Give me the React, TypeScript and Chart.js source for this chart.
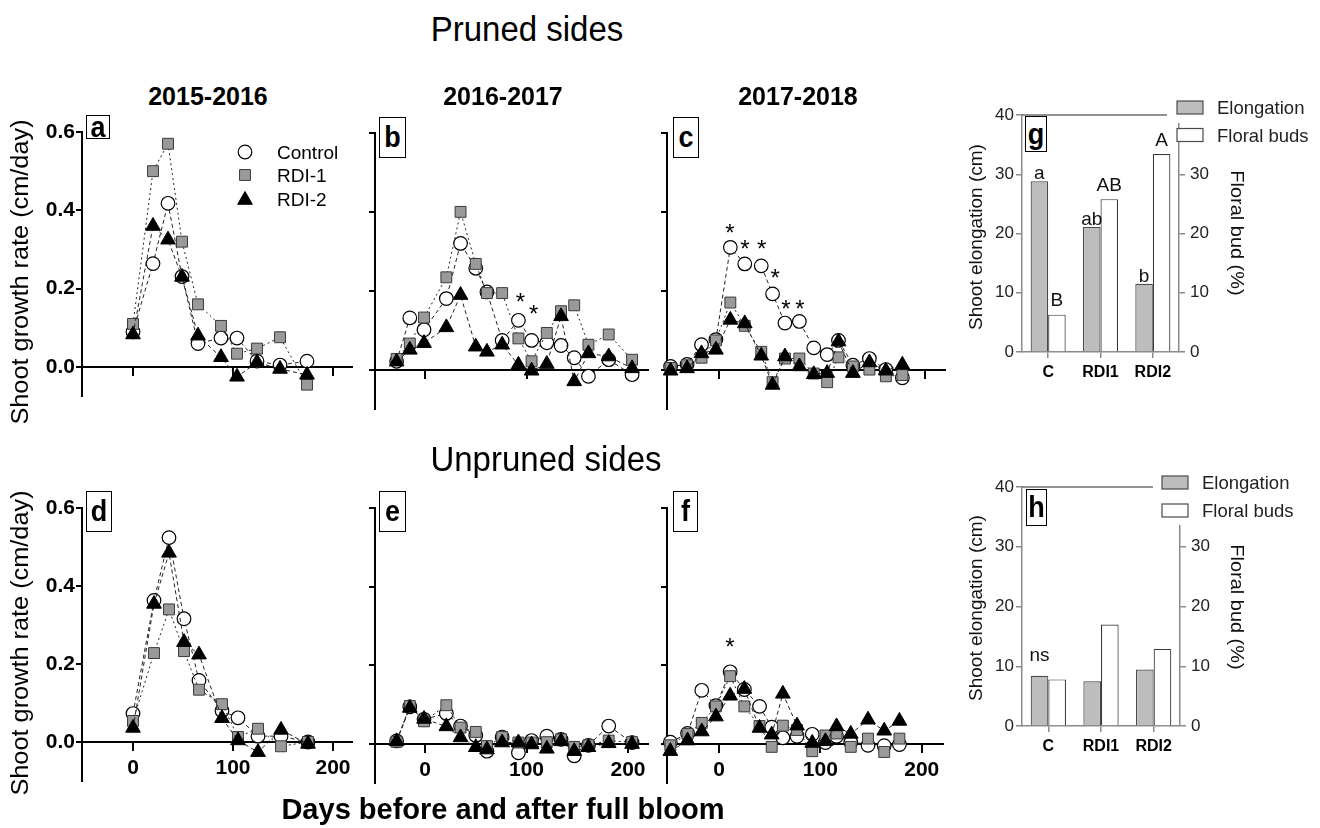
import React, { useEffect, useRef } from 'react';
import { Chart, registerables } from 'chart.js';

Chart.register(...registerables);
const FONT = "'Liberation Sans', Arial, Helvetica, sans-serif";
Chart.defaults.font.family = FONT;

// ---------------- DATA ----------------
const seriesNames = ['Control', 'RDI-1', 'RDI-2'];
const xTicks = [0, 100, 200];
const yTicks = [0, 0.2, 0.4, 0.6];

// a) Pruned 2015-2016
const aDays = [0, 20, 35, 49, 65, 88, 104, 124, 147, 174];
const aControl = [0.09, 0.264, 0.418, 0.231, 0.06, 0.074, 0.074, 0.015, 0.005, 0.015];
const aRdi1 = [0.11, 0.5, 0.57, 0.32, 0.16, 0.105, 0.034, 0.047, 0.076, -0.045];
const aRdi2 = [0.083, 0.36, 0.325, 0.23, 0.08, 0.025, -0.025, 0.012, -0.005, -0.02];

// b) Pruned 2016-2017
const bDays = [-28, -15, -1, 21, 35, 50, 61, 76, 92, 105, 120, 134, 147, 161, 181, 204];
const bControl = [0.021, 0.131, 0.101, 0.18, 0.32, 0.257, 0.197, 0.074, 0.125, 0.074, 0.068, 0.061, 0.03, -0.017, 0.025, -0.013];
const bRdi1 = [0.027, 0.066, 0.132, 0.234, 0.4, 0.268, 0.194, 0.194, 0.079, 0.021, 0.093, 0.148, 0.163, 0.063, 0.089, 0.025];
const bRdi2 = [0.02, 0.05, 0.067, 0.107, 0.189, 0.058, 0.045, 0.063, 0.012, -0.003, 0.014, 0.135, -0.03, 0.041, 0.033, 0.003];
const bStars = [{ x: 94, y: 0.186 }, { x: 107, y: 0.156 }];

// c) Pruned 2017-2018
const cDays = [-47, -31, -17, -3, 11, 25, 41, 52, 64, 78, 92, 105, 116, 130, 146, 162, 178];
const cControl = [0.008, 0.013, 0.063, 0.076, 0.31, 0.268, 0.263, 0.192, 0.118, 0.122, 0.055, 0.038, 0.074, 0.011, 0.028, 0.0, -0.021];
const cRdi1 = [0.004, 0.011, 0.03, 0.074, 0.17, 0.111, 0.045, -0.032, 0.028, 0.028, -0.01, -0.032, 0.031, 0.008, 0.0, -0.017, -0.014];
const cRdi2 = [-0.003, 0.003, 0.041, 0.05, 0.126, 0.117, 0.035, -0.039, 0.033, 0.008, -0.012, -0.009, 0.071, -0.009, 0.018, -0.003, 0.012];
const cStars = [
  { x: 10.7, y: 0.36 }, { x: 25.2, y: 0.321 }, { x: 41.5, y: 0.321 },
  { x: 54.4, y: 0.246 }, { x: 65, y: 0.169 }, { x: 78.6, y: 0.169 },
];

// d) Unpruned 2015-2016
const dDays = [0, 21, 36, 51, 66, 89, 105, 125, 148, 175];
const dControl = [0.073, 0.363, 0.524, 0.316, 0.158, 0.08, 0.062, 0.015, 0.015, 0.0];
const dRdi1 = [0.054, 0.228, 0.34, 0.233, 0.134, 0.097, 0.013, 0.034, -0.011, 0.0];
const dRdi2 = [0.036, 0.354, 0.485, 0.256, 0.224, 0.061, 0.004, -0.026, 0.031, -0.005];

// e) Unpruned 2016-2017
const eDays = [-28, -15, -1, 21, 35, 50, 61, 76, 92, 105, 120, 134, 147, 161, 181, 204];
const eControl = [0.007, 0.094, 0.062, 0.077, 0.045, 0.021, -0.019, 0.017, -0.023, 0.008, 0.019, 0.011, -0.031, -0.004, 0.045, 0.003];
const eRdi1 = [0.005, 0.096, 0.057, 0.098, 0.041, 0.03, -0.006, 0.017, 0.003, 0.003, 0.004, 0.011, -0.008, -0.004, 0.008, 0.004];
const eRdi2 = [0.006, 0.091, 0.063, 0.044, 0.016, -0.009, -0.015, 0.003, 0.003, -0.002, -0.013, 0.006, -0.019, -0.009, 0.001, -0.001];

// f) Unpruned 2017-2018
const fDays = [-48, -31, -17, -3, 11, 25, 40, 52, 63, 77, 92, 105, 116, 130, 147, 163, 178];
const fControl = [0.004, 0.026, 0.136, 0.097, 0.183, 0.138, 0.095, 0.042, 0.015, 0.019, 0.024, 0.003, 0.019, 0.003, -0.004, -0.005, -0.002];
const fRdi1 = [-0.004, 0.025, 0.053, 0.095, 0.172, 0.095, 0.045, -0.008, 0.046, 0.035, -0.019, 0.021, 0.026, -0.008, 0.013, -0.021, 0.013];
const fRdi2 = [-0.019, 0.008, 0.031, 0.069, 0.122, 0.139, 0.04, 0.023, 0.127, 0.046, 0.002, 0.006, 0.044, 0.025, 0.061, 0.033, 0.058];
const fStars = [{ x: 10.8, y: 0.26 }];

// g, h) bar charts
const barCategories = ['C', 'RDI1', 'RDI2'];
const barSeries = ['Elongation', 'Floral buds'];
const barLeftTicks = [0, 10, 20, 30, 40];
const barRightTicks = [0, 10, 20, 30];
const gElong = [28.8, 21.1, 11.5];
const gFloral = [6.3, 25.8, 33.4];
const gElongLetters = ['a', 'ab', 'b'];
const gFloralLetters = ['B', 'AB', 'A'];
const hElong = [8.4, 7.5, 9.45];
const hFloral = [7.8, 17.0, 12.9];
const hElongLetters = ['ns', '', ''];
const hFloralLetters = ['', '', ''];

// ---------------- HELPERS ----------------
type Pt = { x: number; y: number };
const zip = (xs: number[], ys: number[]): Pt[] => xs.map((x, i) => ({ x, y: ys[i] }));

const markerStyles = [
  { pointStyle: 'circle', r: 6.8, fill: '#ffffff', stroke: '#000000', bw: 1.2, order: 2, dash: [4, 3] },
  { pointStyle: 'rect', r: 7.7, fill: '#9a9a9a', stroke: '#3a3a3a', bw: 1, order: 1, dash: [2, 3] },
  { pointStyle: 'triangle', r: 8.5, fill: '#000000', stroke: '#000000', bw: 1, order: 0, dash: [4, 3] },
];

function drawMarker(ctx: CanvasRenderingContext2D, i: number, x: number, y: number) {
  const m = markerStyles[i];
  ctx.save();
  ctx.beginPath();
  if (m.pointStyle === 'circle') {
    ctx.arc(x, y, m.r, 0, Math.PI * 2);
  } else if (m.pointStyle === 'rect') {
    const s = m.r * Math.SQRT1_2;
    ctx.rect(x - s, y - s, 2 * s, 2 * s);
  } else {
    let rad = 0;
    ctx.moveTo(x + Math.sin(rad) * m.r, y - Math.cos(rad) * m.r);
    rad += (2 * Math.PI) / 3;
    ctx.lineTo(x + Math.sin(rad) * m.r, y - Math.cos(rad) * m.r);
    rad += (2 * Math.PI) / 3;
    ctx.lineTo(x + Math.sin(rad) * m.r, y - Math.cos(rad) * m.r);
    ctx.closePath();
  }
  ctx.fillStyle = m.fill;
  ctx.fill();
  ctx.lineWidth = m.bw;
  ctx.strokeStyle = m.stroke;
  ctx.stroke();
  ctx.restore();
}

interface LinePanel {
  x0: number; x1: number; y0: number; y1: number;
  xMin: number; xMax: number; yMin: number;
  days: number[]; series: number[][];
  stars?: Pt[]; showY: boolean; showX: boolean; legend?: boolean;
}

const PT = 15, PR = 15, PB = 10;
function lineGeom(p: LinePanel) {
  const W = p.showY ? 60 : 10;
  return { W, left: p.x0 - W, top: p.y0 - PT, width: W + (p.x1 - p.x0) + PR, height: PT + (p.y1 - p.y0) + PB };
}

function makeLineConfig(p: LinePanel): any {
  const g = lineGeom(p);
  const plugins: any[] = [];
  if (p.stars) {
    const stars = p.stars;
    plugins.push({
      id: 'stars',
      afterDatasetsDraw(chart: any) {
        const { ctx } = chart;
        const xs = chart.scales.x, ys = chart.scales.y;
        ctx.save();
        ctx.font = `24px ${FONT}`;
        ctx.fillStyle = '#000';
        ctx.textAlign = 'center';
        ctx.textBaseline = 'alphabetic';
        for (const s of stars) ctx.fillText('*', xs.getPixelForValue(s.x), ys.getPixelForValue(s.y) + 0.575 * 24);
        ctx.restore();
      },
    });
  }
  if (p.legend) {
    const items = [
      { y: 152, ty: 152 },
      { y: 175, ty: 175.5 },
      { y: 200, ty: 198.8 },
    ];
    plugins.push({
      id: 'seriesLegend',
      afterDraw(chart: any) {
        const { ctx } = chart;
        ctx.save();
        items.forEach((it, i) => {
          drawMarker(ctx, i, 245 - g.left, it.y - g.top);
          ctx.font = `19px ${FONT}`;
          ctx.fillStyle = '#000';
          ctx.textAlign = 'left';
          ctx.textBaseline = 'alphabetic';
          ctx.fillText(seriesNames[i], 277 - g.left, it.ty - g.top + 0.358 * 19);
        });
        ctx.restore();
      },
    });
  }
  return {
    type: 'scatter',
    data: {
      datasets: p.series.map((vals, i) => {
        const m = markerStyles[i];
        return {
          label: seriesNames[i],
          data: zip(p.days, vals),
          showLine: true,
          borderColor: '#222',
          borderWidth: 1,
          borderDash: m.dash,
          tension: 0,
          fill: false,
          pointStyle: m.pointStyle,
          pointRadius: m.r,
          pointHoverRadius: m.r,
          pointBackgroundColor: m.fill,
          pointBorderColor: m.stroke,
          pointBorderWidth: m.bw,
          order: m.order,
          clip: false,
        };
      }),
    },
    options: {
      responsive: false,
      animation: false,
      devicePixelRatio: 1,
      events: [],
      layout: { padding: { left: 0, top: PT, right: PR, bottom: PB } },
      plugins: { legend: { display: false }, tooltip: { enabled: false }, title: { display: false } },
      scales: {
        x: {
          type: 'linear',
          min: p.xMin,
          max: p.xMax,
          position: { y: 0 },
          border: { display: true, color: '#000', width: 2 },
          grid: { display: true, drawOnChartArea: false, drawTicks: true, tickLength: 8, color: '#000', lineWidth: 2 },
          ticks: { display: p.showX, color: '#000', font: { size: 21, weight: 'bold' }, padding: 6, maxRotation: 0, autoSkip: false },
          afterBuildTicks: (s: any) => { s.ticks = xTicks.map((v) => ({ value: v })); },
          afterFit: (s: any) => { s.paddingLeft = 0; s.paddingRight = 0; s.paddingTop = 0; s.paddingBottom = 0; },
        },
        y: {
          type: 'linear',
          min: p.yMin,
          max: 0.6,
          position: 'left',
          border: { display: true, color: '#000', width: 2 },
          grid: { display: true, drawOnChartArea: false, drawTicks: true, tickLength: 6, color: '#000', lineWidth: 2 },
          ticks: { display: p.showY, color: '#000', font: { size: 21, weight: 'bold' }, padding: 1, callback: (v: any) => Number(v).toFixed(1) },
          afterBuildTicks: (s: any) => { s.ticks = yTicks.map((v) => ({ value: v })); },
          afterFit: (s: any) => { s.width = g.W; s.paddingTop = 0; s.paddingBottom = 0; s.paddingLeft = 0; s.paddingRight = 0; },
        },
      },
    },
    plugins,
  };
}

interface BarPanel {
  x0: number; x1: number; y0: number; y1: number;
  elong: number[]; floral: number[]; elongLetters: string[]; floralLetters: string[];
  elongOffset: number; floralOffset: number;
  lineEnd: number; maskX: number; maskBottom: number;
  legendX: number; legendTextX: number; legendY: number[];
}
const BWL = 50, BWR = 45, BXH = 40, BPT = 25;
function barGeom(p: BarPanel) {
  const left = p.x0 - BWL;
  const width = 1320 - left;
  return { left, top: p.y0 - BPT, width, height: BPT + (p.y1 - p.y0) + BXH, PR: width - BWL - (p.x1 - p.x0) - BWR };
}

function makeBarConfig(p: BarPanel): any {
  const g = barGeom(p);
  const axisColor = '#8a8a8a';
  const common = {
    border: { display: true, color: axisColor, width: 1.5 },
    grid: { display: true, drawOnChartArea: false, drawTicks: true, tickLength: 6, color: axisColor, lineWidth: 1.5 },
  };
  return {
    type: 'bar',
    data: {
      labels: barCategories,
      datasets: [
        { label: barSeries[0], data: p.elong, yAxisID: 'y', backgroundColor: '#bdbdbd', borderColor: '#4a4a4a', borderWidth: 1.2, barPercentage: 1, categoryPercentage: 0.67 },
        { label: barSeries[1], data: p.floral, yAxisID: 'y2', backgroundColor: '#ffffff', borderColor: '#3a3a3a', borderWidth: 1.2, barPercentage: 1, categoryPercentage: 0.67 },
      ],
    },
    options: {
      responsive: false,
      animation: false,
      devicePixelRatio: 1,
      events: [],
      layout: { padding: { left: 0, top: BPT, right: g.PR, bottom: 0 } },
      plugins: { legend: { display: false }, tooltip: { enabled: false } },
      scales: {
        x: {
          ...common,
          grid: { ...common.grid, offset: false },
          ticks: { color: '#000', font: { size: 16, weight: 'bold' }, padding: 5, maxRotation: 0, autoSkip: false },
          afterFit: (s: any) => { s.height = BXH; s.paddingLeft = 0; s.paddingRight = 0; },
        },
        y: {
          ...common,
          min: 0, max: 40, position: 'left',
          ticks: { color: '#222', font: { size: 17 }, padding: 2 },
          afterBuildTicks: (s: any) => { s.ticks = barLeftTicks.map((v) => ({ value: v })); },
          afterFit: (s: any) => { s.width = BWL; s.paddingTop = 0; s.paddingBottom = 0; },
        },
        y2: {
          ...common,
          min: 0, max: 40, position: 'right',
          ticks: { color: '#222', font: { size: 17 }, padding: 5 },
          afterBuildTicks: (s: any) => { s.ticks = barRightTicks.map((v) => ({ value: v })); },
          afterFit: (s: any) => { s.width = BWR; s.paddingTop = 0; s.paddingBottom = 0; },
        },
      },
    },
    plugins: [
      {
        id: 'barLetters',
        afterDatasetsDraw(chart: any) {
          const { ctx } = chart;
          ctx.save();
          ctx.font = `19px ${FONT}`;
          ctx.fillStyle = '#111';
          ctx.textAlign = 'center';
          ctx.textBaseline = 'alphabetic';
          [p.elongLetters, p.floralLetters].forEach((letters, di) => {
            const meta = chart.getDatasetMeta(di);
            const off = di === 0 ? p.elongOffset : p.floralOffset;
            meta.data.forEach((bar: any, j: number) => {
              if (letters[j]) ctx.fillText(letters[j], bar.x, bar.y - off);
            });
          });
          ctx.restore();
        },
      },
      {
        id: 'barDecor',
        afterDraw(chart: any) {
          const { ctx, chartArea } = chart;
          ctx.save();
          ctx.strokeStyle = '#6e6e6e';
          ctx.lineWidth = 1.5;
          ctx.beginPath();
          ctx.moveTo(chartArea.left, chartArea.top);
          ctx.lineTo(p.lineEnd - g.left, chartArea.top);
          ctx.stroke();
          ctx.fillStyle = '#ffffff';
          ctx.fillRect(p.maskX - g.left, 0, g.width, p.maskBottom - g.top);
          const fills = ['#bdbdbd', '#ffffff'];
          barSeries.forEach((name, i) => {
            const cy = p.legendY[i] - g.top;
            ctx.fillStyle = fills[i];
            ctx.fillRect(p.legendX - g.left, cy - 6.5, 26, 13);
            ctx.strokeStyle = '#4a4a4a';
            ctx.lineWidth = 1.2;
            ctx.strokeRect(p.legendX - g.left, cy - 6.5, 26, 13);
            ctx.fillStyle = '#222';
            ctx.font = `18.5px ${FONT}`;
            ctx.textAlign = 'left';
            ctx.textBaseline = 'alphabetic';
            ctx.fillText(name, p.legendTextX - g.left, cy + 0.358 * 18.5);
          });
          ctx.restore();
        },
      },
    ],
  };
}

// ---------------- PANELS ----------------
const linePanels: LinePanel[] = [
  { x0: 82, x1: 352, y0: 132, y1: 396, xMin: -51, xMax: 219, yMin: -0.074, days: aDays, series: [aControl, aRdi1, aRdi2], showY: true, showX: false, legend: true },
  { x0: 375, x1: 648, y0: 133, y1: 409, xMin: -49.3, xMax: 219.7, yMin: -0.1, days: bDays, series: [bControl, bRdi1, bRdi2], stars: bStars, showY: false, showX: false },
  { x0: 667, x1: 945, y0: 133, y1: 409, xMin: -50.5, xMax: 219.4, yMin: -0.1, days: cDays, series: [cControl, cRdi1, cRdi2], stars: cStars, showY: false, showX: false },
  { x0: 82, x1: 352, y0: 508, y1: 781, xMin: -51, xMax: 219, yMin: -0.1, days: dDays, series: [dControl, dRdi1, dRdi2], showY: true, showX: true },
  { x0: 375, x1: 648, y0: 508, y1: 783, xMin: -49.3, xMax: 219.7, yMin: -0.1, days: eDays, series: [eControl, eRdi1, eRdi2], showY: false, showX: true },
  { x0: 667, x1: 943, y0: 508, y1: 783, xMin: -51.3, xMax: 221, yMin: -0.1, days: fDays, series: [fControl, fRdi1, fRdi2], stars: fStars, showY: false, showX: true },
];

const barPanels: BarPanel[] = [
  {
    x0: 1022, x1: 1179, y0: 115, y1: 352, elong: gElong, floral: gFloral, elongLetters: gElongLetters, floralLetters: gFloralLetters,
    elongOffset: 2, floralOffset: 8.5, lineEnd: 1167, maskX: 1167, maskBottom: 123, legendX: 1177, legendTextX: 1217, legendY: [107.5, 135],
  },
  {
    x0: 1022, x1: 1180, y0: 487, y1: 726, elong: hElong, floral: hFloral, elongLetters: hElongLetters, floralLetters: hFloralLetters,
    elongOffset: 15, floralOffset: 8.5, lineEnd: 1153, maskX: 1153, maskBottom: 525, legendX: 1162, legendTextX: 1202, legendY: [482.5, 510.5],
  },
];

const panelBoxes = [
  { l: 'a', x0: 86, y0: 115, x1: 110, y1: 139 },
  { l: 'b', x0: 379, y0: 117, x1: 406, y1: 158 },
  { l: 'c', x0: 673, y0: 117, x1: 699, y1: 158 },
  { l: 'd', x0: 86, y0: 491, x1: 112, y1: 532 },
  { l: 'e', x0: 379, y0: 491, x1: 406, y1: 532 },
  { l: 'f', x0: 673, y0: 491, x1: 698, y1: 532 },
  { l: 'g', x0: 1025, y0: 116, x1: 1047, y1: 152 },
  { l: 'h', x0: 1026, y0: 489, x1: 1047, y1: 526 },
];

// ---------------- COMPONENTS ----------------
function ChartCanvas({ left, top, width, height, config }: { left: number; top: number; width: number; height: number; config: any }) {
  const ref = useRef<HTMLCanvasElement>(null);
  useEffect(() => {
    const chart = new Chart(ref.current as HTMLCanvasElement, config);
    return () => chart.destroy();
  }, []);
  return (
    <canvas
      ref={ref}
      width={width}
      height={height}
      style={{ position: 'absolute', left, top, width, height }}
    />
  );
}

function Txt({ t, x, y, size, bold = false, rot = 0, sx = 1, sy = 1, color = '#000' }: any) {
  return (
    <div
      style={{
        position: 'absolute', left: x, top: y,
        transform: `translate(-50%,-50%) rotate(${rot}deg) scale(${sx},${sy})`,
        fontFamily: FONT, fontSize: size, fontWeight: bold ? 'bold' : 'normal',
        lineHeight: 1, whiteSpace: 'nowrap', color,
      }}
    >
      {t}
    </div>
  );
}

function Box({ l, x0, y0, x1, y1 }: any) {
  return (
    <div
      style={{
        position: 'absolute', left: x0, top: y0, width: x1 - x0, height: y1 - y0,
        border: '1.3px solid #000', boxSizing: 'border-box', background: '#fff',
        display: 'flex', alignItems: 'center', justifyContent: 'center',
        fontFamily: FONT, fontWeight: 'bold', fontSize: 27, lineHeight: 1,
      }}
    >
      <span style={{ display: 'inline-block', transform: 'scale(1,1.08)' }}>{l}</span>
    </div>
  );
}

export default function App() {
  return (
    <div style={{ position: 'absolute', left: 0, top: 0, width: 1320, height: 828, overflow: 'hidden', background: '#fff' }}>
      {linePanels.map((p, i) => {
        const g = lineGeom(p);
        return <ChartCanvas key={'l' + i} left={g.left} top={g.top} width={g.width} height={g.height} config={makeLineConfig(p)} />;
      })}
      {barPanels.map((p, i) => {
        const g = barGeom(p);
        return <ChartCanvas key={'b' + i} left={g.left} top={g.top} width={g.width} height={g.height} config={makeBarConfig(p)} />;
      })}
      {panelBoxes.map((b) => <Box key={b.l} {...b} />)}

      <Txt t="Pruned sides" x={527} y={28.6} size={33} sy={1.05} />
      <Txt t="Unpruned sides" x={546} y={458.7} size={33} sy={1.05} />
      <Txt t="2015-2016" x={208} y={96} size={25} bold />
      <Txt t="2016-2017" x={503} y={96} size={25} bold />
      <Txt t="2017-2018" x={798} y={96} size={25} bold />
      <Txt t="Days before and after full bloom" x={503} y={809} size={29} bold />

      <Txt t="Shoot growth rate (cm/day)" x={20} y={272} size={23} rot={-90} sx={1.1} />
      <Txt t="Shoot growth rate (cm/day)" x={20} y={643} size={23} rot={-90} sx={1.1} />

      <Txt t="Shoot elongation (cm)" x={975} y={236.5} size={19} rot={-90} color="#111" />
      <Txt t="Floral bud (%)" x={1237} y={233} size={19} rot={90} sx={1.05} color="#111" />
      <Txt t="Shoot elongation (cm)" x={975} y={608} size={19} rot={-90} color="#111" />
      <Txt t="Floral bud (%)" x={1237} y={607} size={19} rot={90} sx={1.05} color="#111" />
    </div>
  );
}
